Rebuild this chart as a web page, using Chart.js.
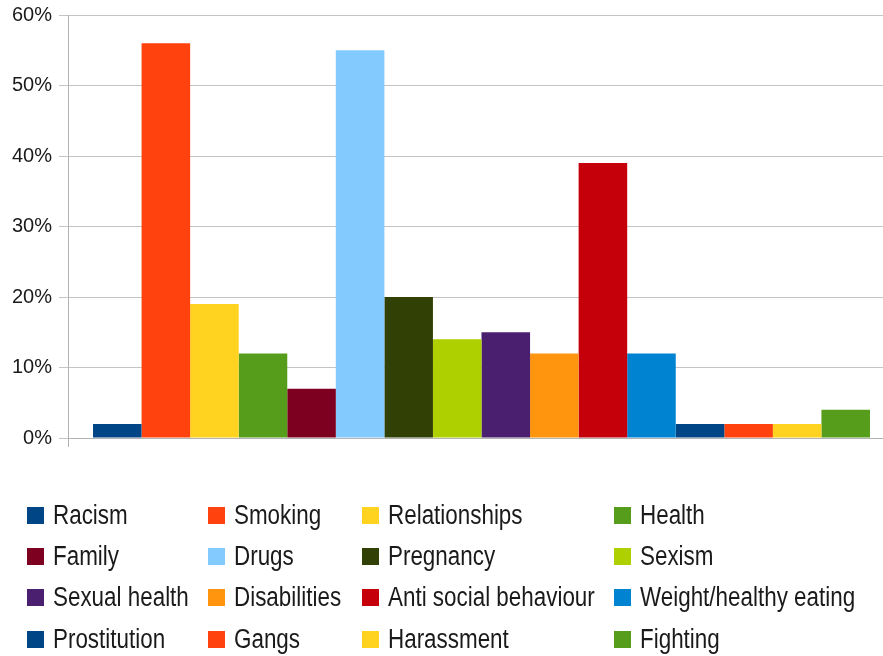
<!DOCTYPE html>
<html>
<head>
<meta charset="utf-8">
<script src="https://cdn.jsdelivr.net/npm/chart.js@4/dist/chart.umd.min.js"></script>
<style>
  html, body { margin: 0; padding: 0; background: #fff; overflow: hidden; width: 883px; height: 656px; }
  #wrap { position: absolute; left: 0; top: 0; width: 895px; height: 460px; }
  #legend { position: absolute; left: 0; top: 0; width: 883px; height: 656px; font-family: "Liberation Sans", Arial, sans-serif; font-size: 27px; color: #1a1a1a; }
  .box { position: absolute; width: 17px; height: 17px; }
  .lbl { position: absolute; line-height: 27px; white-space: nowrap; transform: scaleX(0.83); transform-origin: 0 50%; }
</style>
</head>
<body>
<div id="wrap"><canvas id="chart1"></canvas></div>
<div id="legend"></div>
<script>
// Topics and share of answers (%)
const topics = ['Racism', 'Smoking', 'Relationships', 'Health', 'Family', 'Drugs', 'Pregnancy', 'Sexism',
  'Sexual health', 'Disabilities', 'Anti social behaviour', 'Weight/healthy eating',
  'Prostitution', 'Gangs', 'Harassment', 'Fighting'];
const values = [2, 56, 19, 12, 7, 55, 20, 14, 15, 12, 39, 12, 2, 2, 2, 4];
const colors = ['#004586', '#ff420e', '#ffd320', '#579d1c', '#7e0021', '#83caff', '#314004', '#aecf00',
  '#4b1f6f', '#ff950e', '#c5000b', '#0084d1', '#004586', '#ff420e', '#ffd320', '#579d1c'];
const yTicks = [0, 10, 20, 30, 40, 50, 60];

const datasets = topics.map((t, i) => ({
  label: t,
  data: [values[i]],
  backgroundColor: colors[i],
  borderWidth: 0,
  barPercentage: 1,
  categoryPercentage: 0.9395
}));

const ctx = document.getElementById('chart1').getContext('2d');
new Chart(ctx, {
  type: 'bar',
  data: { labels: [''], datasets: datasets },
  options: {
    responsive: true,
    maintainAspectRatio: false,
    animation: false,
    layout: { padding: { top: 15, bottom: 13, left: 0, right: 0 } },
    plugins: { legend: { display: false }, tooltip: { enabled: false } },
    scales: {
      x: {
        ticks: { display: false },
        grid: { display: true, drawOnChartArea: false, tickLength: 9, color: '#b3b3b3', lineWidth: 1 },
        border: { display: true, color: '#b3b3b3' },
        afterFit: s => { s.height = 9; }
      },
      y: {
        min: 0,
        max: 60,
        afterBuildTicks: s => { s.ticks = yTicks.map(v => ({ value: v })); },
        ticks: {
          callback: v => v + '%',
          color: '#1a1a1a',
          padding: 7,
          font: { family: '"Liberation Sans", Arial, sans-serif', size: 20 }
        },
        grid: { color: '#c4c4c4', lineWidth: 1, tickLength: 9 },
        border: { display: true, color: '#b3b3b3' },
        afterFit: s => { s.width = 68; s.paddingTop = 0; s.paddingBottom = 0; }
      }
    }
  }
});

// legend in 4 columns
const colX = [27, 208, 362, 614];
const rowY = [507, 548, 589, 631];
const legend = document.getElementById('legend');
topics.forEach((t, i) => {
  const x = colX[i % 4], y = rowY[Math.floor(i / 4)];
  const box = document.createElement('div');
  box.className = 'box';
  box.style.left = x + 'px';
  box.style.top = y + 'px';
  box.style.background = colors[i];
  const lbl = document.createElement('div');
  lbl.className = 'lbl';
  lbl.style.left = (x + 26) + 'px';
  lbl.style.top = (y - 5) + 'px';
  lbl.textContent = t;
  legend.appendChild(box);
  legend.appendChild(lbl);
});
</script>
</body>
</html>
